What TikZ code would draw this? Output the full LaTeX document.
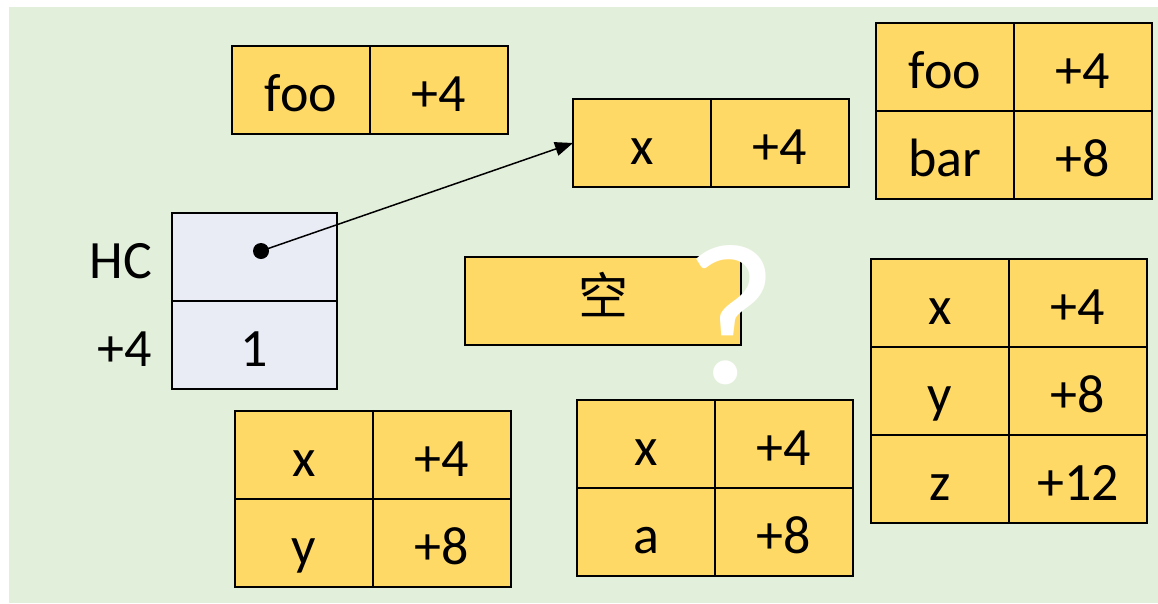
\documentclass[tikz,border=0pt]{standalone}
\usepackage{fontspec}
\setmainfont{Carlito}
\newfontfamily\cjk{Noto Sans CJK SC}
\usetikzlibrary{arrows.meta}
\definecolor{bggreen}{HTML}{E2EFDA}
\definecolor{cellyellow}{HTML}{FFD966}
\definecolor{hcfill}{HTML}{E9EBF5}
\tikzset{
  cell/.style={draw=black, line width=2.6pt, fill=cellyellow, minimum width=138pt,
    minimum height=88pt, inner sep=0pt, outer sep=0pt, anchor=north west,
    font=\fontsize{54}{60}\selectfont, text height=46pt, text depth=4pt},
  hccell/.style={cell, fill=hcfill, minimum width=165pt},
  widecell/.style={cell, minimum width=276pt, font=\cjk\fontsize{50}{56}\selectfont,
    text height=30pt, text depth=4pt},
  sidelabel/.style={anchor=east, inner sep=0pt, font=\fontsize{54}{60}\selectfont,
    text height=46pt, text depth=4pt},
  pointer/.style={line width=1.5pt, -{Triangle[length=18pt,width=14pt]}},
  dotnode/.style={circle, fill=black, inner sep=0pt, minimum size=16pt},
  qmark/.style={anchor=base, inner sep=0pt, text=white, font=\fontsize{202}{202}\selectfont}
}
\begin{document}
\begin{tikzpicture}[x=1pt,y=-1pt]
\useasboundingbox (0,0) rectangle (1158,603);
\fill[bggreen] (9,7) rectangle (1158,603);

% table A: foo +4
\node[cell] (a1) at (232,46) {foo};
\node[cell] (a2) at (a1.north east) {+4};

% table B: x +4
\node[cell] (b1) at (573,99) {x};
\node[cell] (b2) at (b1.north east) {+4};

% table C: foo +4 / bar +8
\node[cell] (c1) at (876,23) {foo};
\node[cell] (c2) at (c1.north east) {+4};
\node[cell] (c3) at (c1.south west) {bar};
\node[cell] (c4) at (c3.north east) {+8};

% HC box
\node[hccell] (h1) at (172,213) {};
\node[hccell] (h2) at (h1.south west) {1};
\node[sidelabel] (hl1) at (152,257) {HC};
\node[sidelabel] (hl2) at (152,345) {+4};
\node[dotnode] (dot) at (261,251) {};
\draw[pointer] (dot.center) -- (b1.west);

% empty box
\node[widecell] (e1) at (465,257) {空};

% table D: x +4 / y +8
\node[cell] (d1) at (235,411) {x};
\node[cell] (d2) at (d1.north east) {+4};
\node[cell] (d3) at (d1.south west) {y};
\node[cell] (d4) at (d3.north east) {+8};

% table E: x +4 / a +8
\node[cell] (f1) at (577,400) {x};
\node[cell] (f2) at (f1.north east) {+4};
\node[cell] (f3) at (f1.south west) {a};
\node[cell] (f4) at (f3.north east) {+8};

% table F: x +4 / y +8 / z +12
\node[cell] (g1) at (871,259) {x};
\node[cell] (g2) at (g1.north east) {+4};
\node[cell] (g3) at (g1.south west) {y};
\node[cell] (g4) at (g3.north east) {+8};
\node[cell] (g5) at (g3.south west) {z};
\node[cell] (g6) at (g5.north east) {+12};

% question mark
\node[qmark] (q) at (731,383) {?};
\end{tikzpicture}
\end{document}
